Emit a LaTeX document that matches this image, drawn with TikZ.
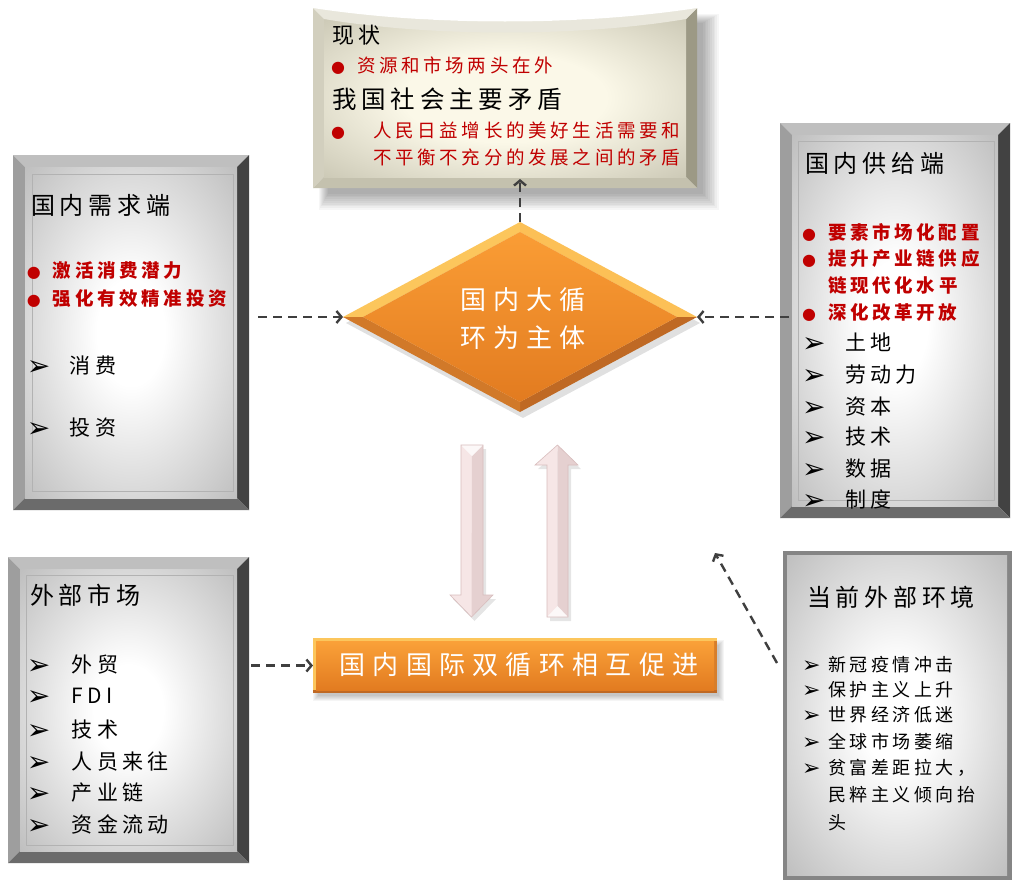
\documentclass[tikz,border=0pt]{standalone}
\usepackage{fontspec}
\setmainfont{Noto Sans CJK SC}
\newfontfamily\cjkA[LetterSpace=20]{Noto Sans CJK SC}
\newfontfamily\cjkB[LetterSpace=28]{Noto Sans CJK SC}
\newfontfamily\symf{DejaVu Sans}
\usetikzlibrary{arrows.meta,shapes.geometric,calc}
\definecolor{myred}{HTML}{C00000}
\definecolor{beigeC}{HTML}{FBF8E8}
\definecolor{beigeE}{HTML}{ADAA95}
\definecolor{beigeT}{HTML}{E9E7DC}
\definecolor{beigeL}{HTML}{D2CFBE}
\definecolor{beigeR}{HTML}{9C9985}
\definecolor{beigeB}{HTML}{C4C1AE}
\definecolor{connc}{HTML}{3F3F3F}
\definecolor{orA}{HTML}{FA9D35}
\definecolor{orB}{HTML}{E27B20}
\definecolor{orHi}{HTML}{FCC65C}
\definecolor{orLo}{HTML}{BF6924}
\definecolor{pinkA}{HTML}{F6E6E6}
\definecolor{pinkB}{HTML}{D8BDBD}
\pgfdeclareradialshading{grayglow}{\pgfpointorigin}{color(0bp)=(white); color(8bp)=(white); color(45bp)=(black!34); color(75bp)=(black!52)}
\pgfdeclareradialshading{beigeglow}{\pgfpointorigin}{color(0bp)=(beigeC); color(14bp)=(beigeC); color(50bp)=(beigeE); color(75bp)=(beigeE!85!black)}
\newcommand\fs[1]{\fontsize{#1}{#1}\selectfont}
\newcommand\dotb[1]{\makebox[#1][l]{{\symf\fontsize{16}{16}\selectfont ●}}}
\newcommand\arrb[3]{\makebox[#1][l]{\raisebox{#3}{\symf\mdseries\color{black}\fontsize{#2}{#2}\selectfont ➢}}}
\newcommand\bevelbox[7]{%
 \fill[#3] (#1.north west) -- (#1.north east) -- ($(#1.north east)+(-#2,#2)$) -- ($(#1.north west)+(#2,#2)$) -- cycle;
 \fill[#4] (#1.north west) -- ($(#1.north west)+(#2,#2)$) -- ($(#1.south west)+(#2,-#2)$) -- (#1.south west) -- cycle;
 \fill[#5] (#1.north east) -- (#1.south east) -- ($(#1.south east)+(-#2,-#2)$) -- ($(#1.north east)+(-#2,#2)$) -- cycle;
 \fill[#6] (#1.south west) -- ($(#1.south west)+(#2,-#2)$) -- ($(#1.south east)+(-#2,-#2)$) -- (#1.south east) -- cycle;
 \shade[shading=#7] ($(#1.north west)+(#2,#2)$) rectangle ($(#1.south east)+(-#2,-#2)$);
}
\begin{document}
\begin{tikzpicture}[x=1pt,y=-1pt,
  boxn/.style={rectangle,draw=none,inner sep=0pt,outer sep=0pt},
  conn/.style={draw=connc,line width=2.4pt,dash pattern=on 9pt off 6pt,-{Straight Barb[length=5pt,width=12pt]}},
  tx/.style={anchor=west,inner sep=0pt,outer sep=0pt,text=black},
  titlet/.style={tx,font=\cjkA\fs{24}},
  redt/.style={tx,text=myred,font=\cjkA\bfseries\fs{18.5}},
  redtop/.style={tx,text=myred,font=\cjkA\fs{18.5}},
  itemt/.style={tx,font=\cjkA\fs{21}},
  smallt/.style={tx,font=\cjkA\fs{18}},
  whitet/.style={inner sep=0pt,text=white,align=center}]
\useasboundingbox (0,0) rectangle (1012,881);
\fill[white] (0,0) rectangle (1012,881);

% ---------- named box nodes ----------
\node[boxn,minimum width=384pt,minimum height=180pt] (top) at (505,98) {};
\node[boxn,minimum width=236pt,minimum height=355pt] (dem) at (131,332.5) {};
\node[boxn,minimum width=230pt,minimum height=395pt] (sup) at (895,320.5) {};
\node[boxn,minimum width=241pt,minimum height=306pt] (mkt) at (128.5,710) {};
\node[boxn,minimum width=230pt,minimum height=330pt] (env) at (897,715) {};
\node[boxn,minimum width=404pt,minimum height=55pt] (rect) at (515,665.5) {};
\node[diamond,draw=none,inner sep=0pt,outer sep=0pt,minimum width=354pt,minimum height=190pt] (core) at (520,317) {};

% ---------- top box ----------
\foreach \s in {1,...,10}
  \fill[black,opacity=0.035] ($(top.north west)+(16-\s,16-\s)$) rectangle ($(top.south east)+(4+1.8*\s,4+1.8*\s)$);
\bevelbox{top}{11}{beigeT}{beigeL}{beigeR}{beigeB}{beigeglow}
\fill[beigeT] (top.north west) .. controls (430,26) and (580,26) .. (top.north east) -- ($(top.north east)+(-11,11)$) .. controls (580,37) and (430,37) .. ($(top.north west)+(11,11)$) -- cycle;
\fill[white] (top.north west) .. controls (430,26) and (580,26) .. (top.north east) -- cycle;

% ---------- gray boxes ----------
\bevelbox{dem}{12}{black!25}{black!38}{black!74}{black!58}{grayglow}
\draw[black!30,line width=1pt] ($(dem.north west)+(19,19)$) rectangle ($(dem.south east)+(-16,-19)$);
\bevelbox{sup}{12}{black!25}{black!38}{black!74}{black!58}{grayglow}
\draw[black!30,line width=1pt] ($(sup.north west)+(18,18)$) rectangle ($(sup.south east)+(-16,-18)$);
\bevelbox{mkt}{12}{black!25}{black!38}{black!74}{black!58}{grayglow}
\draw[black!30,line width=1pt] ($(mkt.north west)+(18,18)$) rectangle ($(mkt.south east)+(-16,-18)$);
\fill[black!48] (env.north west) rectangle (env.south east);
\shade[shading=grayglow] ($(env.north west)+(5,5)$) rectangle ($(env.south east)+(-5,-5)$);
\draw[white,line width=1.5pt] (env.south west) -- (env.north west) -- (env.north east);

% ---------- diamond ----------
\fill[black,opacity=0.12] ($(core.west)+(3,6)$) -- ($(core.north)+(3,6)$) -- ($(core.east)+(3,6)$) -- ($(core.south)+(3,6)$) -- cycle;
\fill[orHi] (core.west) -- (core.north) -- ($(core.north)+(0,10)$) -- ($(core.west)+(20,0)$) -- cycle;
\fill[orHi!85!orA] (core.north) -- (core.east) -- ($(core.east)+(-20,0)$) -- ($(core.north)+(0,10)$) -- cycle;
\fill[orLo] (core.east) -- (core.south) -- ($(core.south)+(0,-10)$) -- ($(core.east)+(-20,0)$) -- cycle;
\fill[orLo!70!orA] (core.south) -- (core.west) -- ($(core.west)+(20,0)$) -- ($(core.south)+(0,-10)$) -- cycle;
\shade[top color=orA,bottom color=orB] ($(core.west)+(20,0)$) -- ($(core.north)+(0,10)$) -- ($(core.east)+(-20,0)$) -- ($(core.south)+(0,-10)$) -- cycle;

% ---------- orange rectangle ----------
\foreach \s in {1,...,6}
  \fill[black,opacity=0.04] ($(rect.north west)+(6-\s,8-\s)$) rectangle ($(rect.south east)+(1+\s,2+\s)$);
\fill[orHi] (rect.north west) rectangle (rect.south east);
\fill[orLo] ($(rect.south west)+(0,-3)$) rectangle (rect.south east);
\fill[orLo!60!orA] ($(rect.north east)+(-3,3)$) rectangle ($(rect.south east)+(0,-3)$);
\shade[top color=orA!90!orHi,bottom color=orB] ($(rect.north west)+(3,3)$) rectangle ($(rect.south east)+(-3,-3)$);

% ---------- pink block arrows ----------
\fill[black,opacity=0.10] (464,449) -- (486,449) -- (486,599) -- (496,599) -- (474.5,621) -- (453,599) -- (464,599) -- cycle;
\fill[black,opacity=0.10] (550,621) -- (550,469) -- (538,469) -- (560,449) -- (581,469) -- (571,469) -- (571,621) -- cycle;
\fill[pinkA] (461,445) -- (472,445) -- (472,617) -- (450,595) -- (461,595) -- cycle;
\fill[pinkB!55!pinkA] (472,445) -- (483,445) -- (483,595) -- (493,595) -- (471.5,617) -- (472,445) -- cycle;
\fill[white!70!pinkA] (461,445) -- (483,445) -- (472,456) -- cycle;
\draw[pinkB,line width=0.6pt] (461,445) -- (483,445) -- (483,595) -- (493,595) -- (471.5,617) -- (450,595) -- (461,595) -- cycle;
\fill[pinkA] (547,617) -- (547,465) -- (535,465) -- (557.5,445) -- (557.5,617) -- cycle;
\fill[pinkB!55!pinkA] (557.5,617) -- (557.5,445) -- (578,465) -- (568,465) -- (568,617) -- cycle;
\fill[white!70!pinkA] (547,617) -- (568,617) -- (557.5,606) -- cycle;
\draw[pinkB,line width=0.6pt] (547,617) -- (547,465) -- (535,465) -- (557.5,445) -- (578,465) -- (568,465) -- (568,617) -- cycle;

% ---------- connectors ----------
\coordinate (envtip) at (715,553);
\draw[conn] ($(dem.east |- core.west)+(9,0)$) -- (core.west);
\draw[conn] ($(sup.west |- core.east)+(9,0)$) -- (core.east);
\draw[conn] (core.north) -- ($(core.north |- top.south)+(0,-9)$);
\draw[conn] ($(mkt.east |- rect.west)+(2,0)$) -- (rect.west);
\draw[conn] ($(env.north west)+(-5,113)$) -- (envtip);

% ---------- texts: top box ----------
\node[tx,font=\cjkA\fs{22}] (t1) at (332,35) {现状};
\node[redtop] (t2) at (331,66) {\dotb{26pt}资源和市场两头在外};
\node[tx,font=\cjkA\fs{24.5}] (t3) at (332,99) {我国社会主要矛盾};
\node[redtop] (t4) at (331,131) {\dotb{42pt}人民日益增长的美好生活需要和};
\node[redtop] (t5) at (373,157) {不平衡不充分的发展之间的矛盾};

% ---------- texts: demand box ----------
\node[titlet] (d0) at (31,205) {国内需求端};
\node[redt] (d1) at (27,271) {\dotb{26pt}激活消费潜力};
\node[redt] (d2) at (27,299) {\dotb{26pt}强化有效精准投资};
\node[itemt] (d3) at (27,366) {\arrb{43pt}{28}{-2pt}消费};
\node[itemt] (d4) at (27,428) {\arrb{43pt}{28}{-2pt}投资};

% ---------- texts: supply box ----------
\node[titlet] (s0) at (805,163) {国内供给端};
\node[redt] (s1) at (802,232) {\dotb{26pt}要素市场化配置};
\node[redt] (s2) at (802,258) {\dotb{26pt}提升产业链供应};
\node[redt] (s3) at (828,285) {链现代化水平};
\node[redt] (s4) at (802,313) {\dotb{26pt}深化改革开放};
\node[itemt] (s5) at (802,343) {\arrb{43pt}{28}{-2pt}土地};
\node[itemt] (s6) at (802,375) {\arrb{43pt}{28}{-2pt}劳动力};
\node[itemt] (s7) at (802,407) {\arrb{43pt}{28}{-2pt}资本};
\node[itemt] (s8) at (802,437) {\arrb{43pt}{28}{-2pt}技术};
\node[itemt] (s9) at (802,469) {\arrb{43pt}{28}{-2pt}数据};
\node[itemt] (s10) at (802,500) {\arrb{43pt}{28}{-2pt}制度};

% ---------- texts: market box ----------
\node[titlet] (m0) at (30,595) {外部市场};
\node[itemt] (m1) at (27,665) {\arrb{45pt}{28}{-2pt}外贸};
\node[itemt] (m2) at (27,697) {\arrb{45pt}{28}{-2pt}FDI};
\node[itemt] (m3) at (27,730) {\arrb{45pt}{28}{-2pt}技术};
\node[itemt] (m4) at (27,762) {\arrb{45pt}{28}{-2pt}人员来往};
\node[itemt] (m5) at (27,793) {\arrb{45pt}{28}{-2pt}产业链};
\node[itemt] (m6) at (27,825) {\arrb{45pt}{28}{-2pt}资金流动};

% ---------- texts: environment box ----------
\node[titlet] (e0) at (807,597) {当前外部环境};
\node[smallt] (e1) at (802,665) {\arrb{26pt}{22}{-1pt}新冠疫情冲击};
\node[smallt] (e2) at (802,690) {\arrb{26pt}{22}{-1pt}保护主义上升};
\node[smallt] (e3) at (802,715) {\arrb{26pt}{22}{-1pt}世界经济低迷};
\node[smallt] (e4) at (802,742) {\arrb{26pt}{22}{-1pt}全球市场萎缩};
\node[smallt] (e5) at (802,768) {\arrb{26pt}{22}{-1pt}贫富差距拉大，};
\node[smallt] (e6) at (828,795) {民粹主义倾向抬};
\node[smallt] (e7) at (828,823) {头};

% ---------- texts: orange shapes ----------
\node[whitet,font=\cjkB\fontsize{26}{38}\selectfont] (coret) at (523,319) {国内大循\\环为主体};
\node[whitet,font=\cjkB\fs{26}] (rectt) at (519,665) {国内国际双循环相互促进};
\end{tikzpicture}
\end{document}
